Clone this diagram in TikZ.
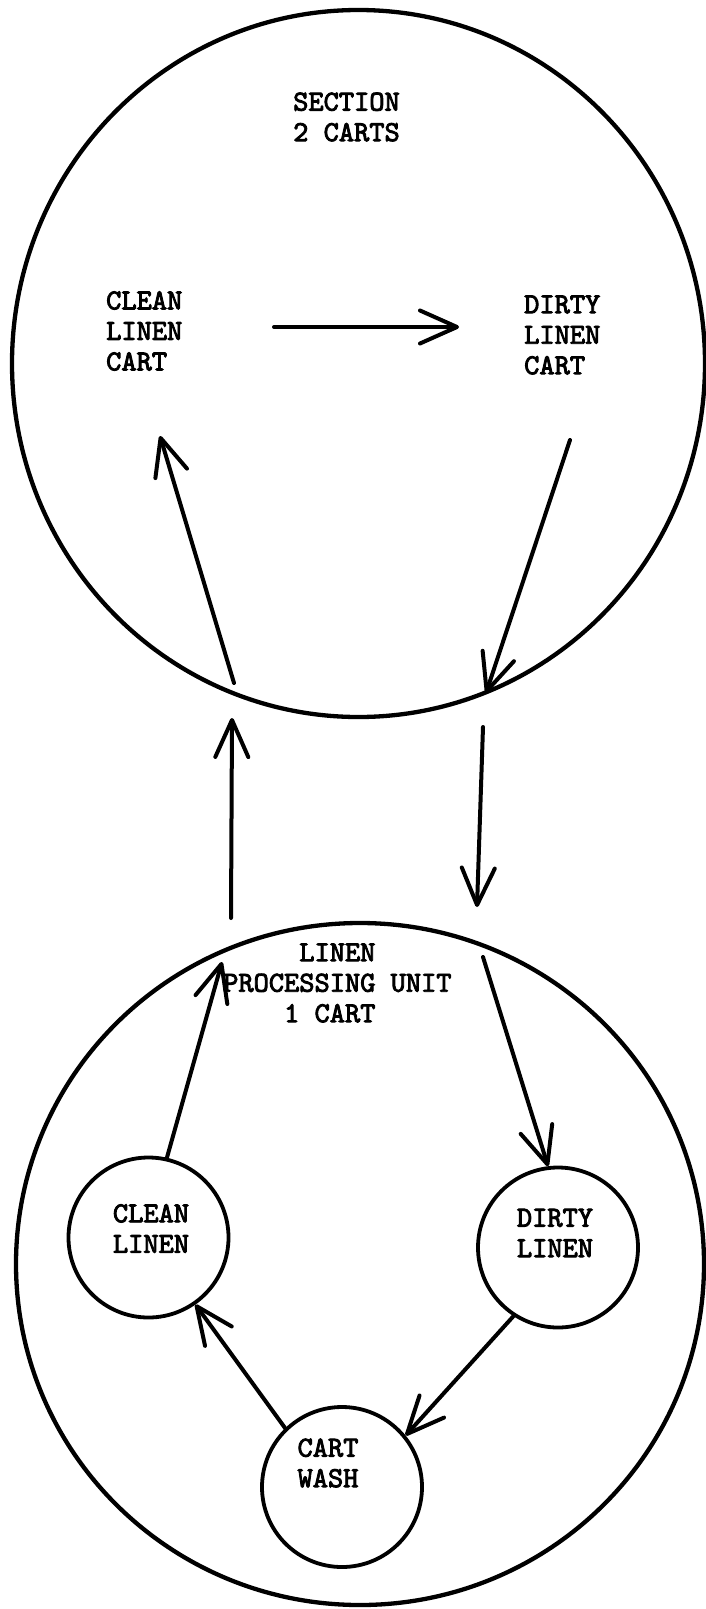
\documentclass[tikz,border=0pt]{standalone}
\usepackage{fontspec}
\newfontfamily\twfont{lmmono10-regular}[Extension=.otf,FakeBold=3]
\usetikzlibrary{arrows.meta,shapes.geometric}
\begin{document}
\begin{tikzpicture}[x=1pt,y=-1pt,
  outerring/.style={draw, ellipse, line width=4.3pt, inner sep=0pt},
  unitring/.style={draw, circle, line width=3.8pt, minimum size=160pt, inner sep=0pt},
  ltext/.style={font=\twfont\fontsize{29pt}{30.5pt}\selectfont, inner sep=0pt, align=left, anchor=west},
  ctext/.style={font=\twfont\fontsize{29pt}{30.5pt}\selectfont, inner sep=0pt, align=center},
  flow/.style={line width=4pt, line cap=round, -{Straight Barb[length=37pt,width=33pt,round]}}]
\useasboundingbox (0,0) rectangle (706,1609);

% outer rings
\node[outerring, minimum width=693pt, minimum height=707pt] (section) at (358.5,363.5) {};
\node[outerring, minimum width=688pt, minimum height=682pt] (unit) at (360,1264) {};

% top texts
\node[ltext] (sectxt) at (293,117) {SECTION\\2 CARTS};
\node[ltext] (cleancart) at (106,331) {CLEAN\\LINEN\\CART};
\node[ltext] (dirtycart) at (524,335) {DIRTY\\LINEN\\CART};

% unit text
\node[ltext] (unittxt) at (223,983) {\phantom{XXXXX}LINEN\\PROCESSING UNIT\\\phantom{XXXX}1 CART};

% inner circles
\node[unitring] (cl) at (148.5,1237.5) {};
\node[ctext] (cltxt) at (151,1228.5) {CLEAN\\LINEN};
\node[unitring] (dl) at (558,1247.5) {};
\node[ctext] (dltxt) at (555,1233) {DIRTY\\LINEN};
\node[unitring] (cw) at (342,1487) {};
\node[ctext] (cwtxt) at (328,1463) {CART\\WASH};

% connector end points
\coordinate (h1) at (274,327);
\coordinate (h2) at (459,327);
\coordinate (u1) at (234,683);
\coordinate (u2) at (160,436);
\coordinate (d1) at (570,440);
\coordinate (d2) at (486,693);
\coordinate (v1) at (231,918);
\coordinate (v2) at (232,718);
\coordinate (w1) at (483,727);
\coordinate (w2) at (477,907);
\coordinate (e1) at (222,962);
\coordinate (f1) at (483,957);

% connectors
\draw[flow] (h1) -- (h2);
\draw[flow] (u1) -- (u2);
\draw[flow] (d1) -- (d2);
\draw[flow] (v1) -- (v2);
\draw[flow] (w1) -- (w2);
\draw[flow] (cl.77) -- (e1);
\draw[flow] (f1) -- (dl.97);
\draw[flow] (dl.237) -- (cw.39);
\draw[flow] (cw.134) -- (cl.-55);
\end{tikzpicture}
\end{document}
